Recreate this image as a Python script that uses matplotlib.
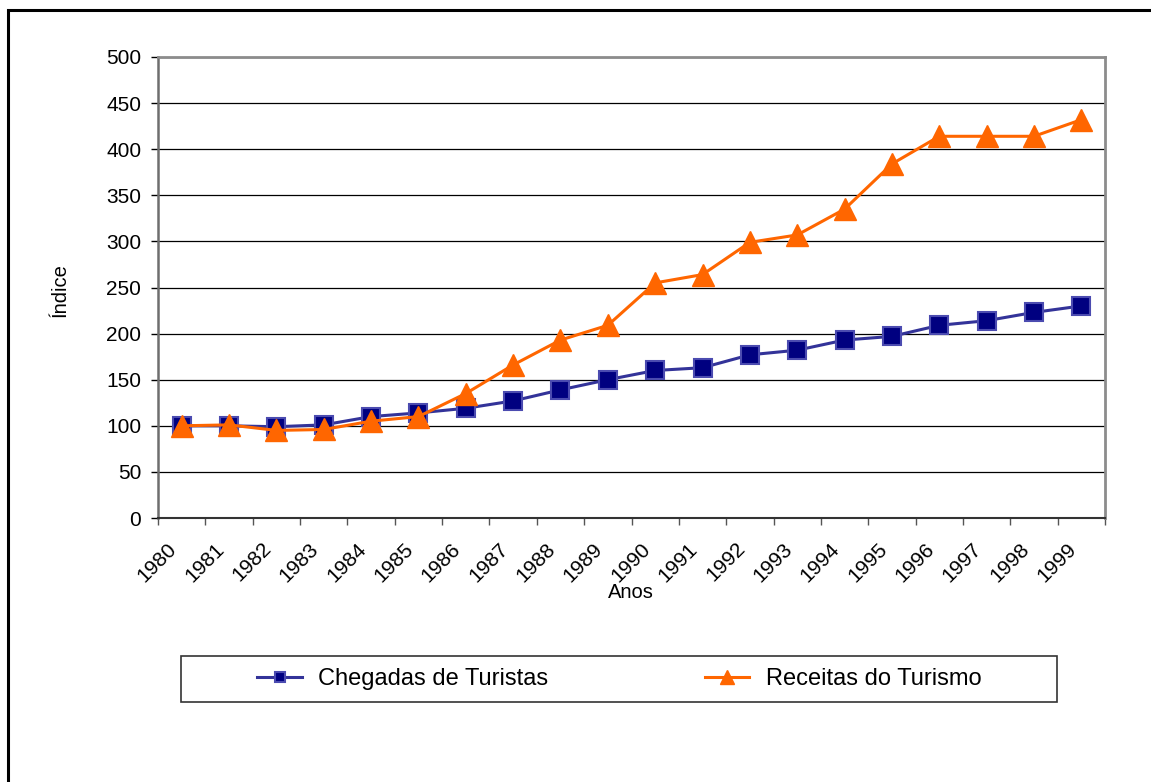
import numpy as np
import matplotlib.pyplot as plt
from matplotlib.lines import Line2D
from matplotlib.patches import Rectangle
from matplotlib.transforms import ScaledTranslation

plt.rcParams['font.family'] = ['Liberation Sans', 'DejaVu Sans']

anos = [str(a) for a in range(1980, 2000)]
chegadas = [100, 100, 99, 101, 110, 114, 119, 127, 139, 150,
            160, 163, 177, 182, 193, 197, 209, 214, 223, 230]
receitas = [100, 101, 95, 96, 105, 110, 135, 166, 193, 209,
            255, 264, 299, 307, 335, 384, 414, 414, 414, 432]

W, H = 1151, 782
fig = plt.figure(figsize=(W / 100, H / 100), dpi=100)

# outer chart frame: only its top and left edges fall inside the image
fig.add_artist(Line2D([8 / W, 8 / W, 1.0], [0.0, 1 - 10 / H, 1 - 10 / H],
                      transform=fig.transFigure, color='black',
                      linewidth=2.2, solid_joinstyle='miter'))

ax = fig.add_axes([158 / W, 1 - 518 / H, (1105 - 158) / W, (518 - 57) / H])

x = np.arange(len(anos))
ax.plot(x, chegadas, color='#333399', linewidth=2.2, marker='s',
        markersize=13, markerfacecolor='#000080', markeredgecolor='#4B4BB0',
        markeredgewidth=1.5, label='Chegadas de Turistas', zorder=3)
ax.plot(x, receitas, color='#FF6600', linewidth=2.2, marker='^',
        markersize=16, markerfacecolor='#FF6600', markeredgecolor='#FF6600',
        label='Receitas do Turismo', zorder=4)

ax.set_xlim(-0.5, len(anos) - 0.5)
ax.set_ylim(0, 500)
ax.set_yticks(np.arange(0, 501, 50))
ax.yaxis.grid(True, color='black', linewidth=0.9)
ax.set_axisbelow(True)

for side in ['top', 'right']:
    ax.spines[side].set_color('#8c8c8c')
    ax.spines[side].set_linewidth(2)
ax.spines['left'].set_color('#6e6e6e')
ax.spines['left'].set_linewidth(1.8)
ax.spines['bottom'].set_color('#333333')
ax.spines['bottom'].set_linewidth(1.5)

ax.tick_params(axis='y', length=5, width=1, pad=7, labelsize=15)

# category boundaries carry the tick marks, labels sit at the centres
ax.set_xticks(x)
ax.set_xticks(np.arange(-0.5, len(anos)), minor=True)
ax.tick_params(axis='x', which='major', length=0, pad=20, labelsize=15)
ax.tick_params(axis='x', which='minor', length=5, width=1, color='#555555')
ax.set_xticklabels(anos, rotation=45, ha='right', va='center',
                   rotation_mode='anchor')
shift = ScaledTranslation(-8 / 100, 0, fig.dpi_scale_trans)
for lab in ax.get_xticklabels():
    lab.set_transform(lab.get_transform() + shift)

fig.text(631 / W, 1 - 593 / H, 'Anos', ha='center', va='center', fontsize=14.5)
fig.text(60 / W, 1 - 290 / H, 'Índice', ha='center', va='center',
         rotation=90, fontsize=14.5)

# legend box
fig.patches.append(Rectangle((181 / W, 1 - 702 / H), (1057 - 181) / W, 46 / H,
                             transform=fig.transFigure, fill=False,
                             edgecolor='#333333', linewidth=1.2))
fig.legend(loc='center left', bbox_to_anchor=(236 / W, 1 - 679 / H),
           ncol=2, frameon=False, fontsize=17, handlelength=1.9,
           handletextpad=0.68, columnspacing=6.62, markerscale=0.6)

fig.savefig('out.png', dpi=100)
